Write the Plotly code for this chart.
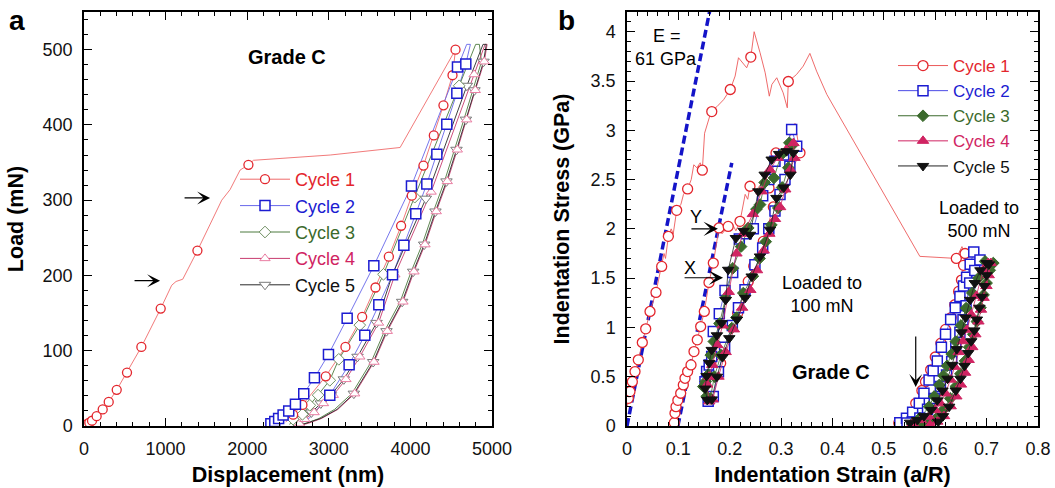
import plotly.graph_objects as go

FONT = "Liberation Sans, Arial, sans-serif"
W, H = 1055, 488
ML, MR, MT, MB = 0, 0, 12, 62

CYCLE_NAMES = ["Cycle 1", "Cycle 2", "Cycle 3", "Cycle 4", "Cycle 5"]
RED, BLUE, GREEN, PINK, BLACK = "#e3262d", "#1c1cd1", "#3b6a2c", "#d02462", "#111111"

# ================= Panel a : Load vs Displacement =================
a_x_ticks = [0, 1000, 2000, 3000, 4000, 5000]
a_y_ticks = [0, 100, 200, 300, 400, 500]

# Cycle 1 loading (line) and its markers
a_c1_load_x = [0, 16, 41, 65, 98, 155, 229, 303, 401, 527, 703, 940, 1075, 1128, 1210, 1390, 1688, 1790, 1913, 2015, 2077, 3017, 3874, 4553]
a_c1_load_y = [0, 1, 2.7, 4.4, 7, 13, 22, 32, 48, 71, 105, 156, 187, 192, 195, 233, 300, 314, 340, 347, 353, 360, 370, 500]
a_c1_load_mx = [0, 16, 41, 65, 98, 155, 229, 303, 401, 527, 703, 940, 1390, 2015]
a_c1_load_my = [0, 1, 2.7, 4.4, 7, 13, 22, 32, 48, 71, 105, 156, 233, 347]
# Cycle 1 unloading
a_c1_unl_x = [4553, 4516, 4405, 4287, 4160, 4017, 3886, 3736, 3572, 3409, 3204, 2963, 2677, 2563, 2470]
a_c1_unl_y = [500, 466, 426, 386, 346, 306, 266, 225, 184, 145, 105, 66, 28, 15, 5]
a_c1_unl_mx = [4553, 4516, 4405, 4287, 4160, 4017, 3886, 3736, 3572, 3409, 3204, 2963, 2677, 2563]
a_c1_unl_my = [500, 466, 426, 386, 346, 306, 266, 225, 184, 145, 105, 66, 28, 15]

# Cycle 2
a_c2_x = [2290, 2338, 2385, 2440, 2509, 2591, 2693, 2824, 2996, 3225, 3552, 4013, 4577, 4690, 4735, 4679, 4569, 4446, 4324, 4201, 4066, 3920, 3781, 3613, 3441, 3249, 3012, 2767, 2600]
a_c2_y = [3, 6, 10, 14.6, 20, 29, 43, 64, 95, 143, 213, 319, 477, 507, 507, 481, 442, 401, 361, 321.5, 282, 240, 201, 161, 120.5, 81.5, 41, 11, 2]
a_c2_mx = [2290, 2338, 2385, 2440, 2509, 2591, 2693, 2824, 2996, 3225, 3552, 4013, 4577, 4679, 4569, 4446, 4324, 4201, 4066, 3920, 3781, 3613, 3441, 3249, 3012]
a_c2_my = [3, 6, 10, 14.6, 20, 29, 43, 64, 95, 143, 213, 319, 477, 481, 442, 401, 361, 321.5, 282, 240, 201, 161, 120.5, 81.5, 41]

# Cycle 3
a_c3_x = [2520, 2563, 2677, 2767, 2869, 3012, 3122, 3380, 3670, 4053, 4598, 4800, 4845, 4871, 4760, 4655, 4540, 4417, 4282, 4144, 4009, 3874, 3682, 3519, 3282, 3070, 2880, 2730, 2620]
a_c3_y = [2, 9, 15.5, 27.5, 41, 60.7, 88.6, 134, 201.5, 304, 452, 507, 507, 484, 446, 407, 367, 325, 285, 241, 205, 165, 126, 85, 43, 22, 10, 4, 1]
a_c3_mx = [2563, 2677, 2767, 2869, 3012, 3122, 3380, 3670, 4053, 4598]
a_c3_my = [9, 15.5, 27.5, 41, 60.7, 88.6, 134, 201.5, 304, 452]

# Cycle 4
a_c4_x = [2600, 2640, 2705, 2820, 2935, 3055, 3210, 3380, 3610, 3810, 4254, 4781, 4915, 4940, 4905, 4795, 4690, 4575, 4452, 4317, 4179, 4044, 3909, 3717, 3554, 3317, 3110, 2910, 2760, 2660]
a_c4_y = [0, 3, 9, 18, 30, 41, 62, 92, 137, 201, 311, 467, 507, 507, 484, 446, 407, 367, 325, 285, 241, 205, 165, 126, 85, 43, 22, 10, 4, 1]
a_c4_mx = [2640, 2705, 2820, 2935, 3055, 3210, 3380, 3610, 3810, 4254, 4781, 4905, 4795, 4690, 4575, 4452, 4317, 4179, 4044, 3909, 3717, 3554, 3317]
a_c4_my = [3, 9, 18, 30, 41, 62, 92, 137, 201, 311, 467, 484, 446, 407, 367, 325, 285, 241, 205, 165, 126, 85, 43]

# Cycle 5
a_c5_x = [2560, 2600, 2665, 2787, 2902, 3025, 3184, 3352, 3585, 3781, 4189, 4692, 4890, 4930, 4896, 4785, 4680, 4565, 4442, 4307, 4169, 4034, 3899, 3707, 3544, 3307, 3100, 2900, 2750, 2650]
a_c5_y = [0, 3, 9, 18, 30, 41, 62, 92, 137, 201.5, 302, 452, 507, 507, 484, 446, 407, 367, 325, 285, 241, 205, 165, 126, 85, 43, 22, 10, 4, 1]
a_c5_mx = [2600, 2665, 2787, 2902, 3025, 3184, 3352, 3585, 3781, 4189, 4692, 4896, 4785, 4680, 4565, 4442, 4307, 4169, 4034, 3899, 3707, 3544, 3307]
a_c5_my = [3, 9, 18, 30, 41, 62, 92, 137, 201.5, 302, 452, 484, 446, 407, 367, 325, 285, 241, 205, 165, 126, 85, 43]

# ================= Panel b : Indentation stress-strain =================
b_x_ticks = [0, 0.1, 0.2, 0.3, 0.4, 0.5, 0.6, 0.7, 0.8]
b_y_ticks = [0, 0.5, 1, 1.5, 2, 2.5, 3, 3.5, 4]

# Cycle 1, 500 mN test (line)
b_c1a_x = [0.001, 0.0026, 0.0058, 0.0104, 0.0156, 0.022, 0.0298, 0.0364, 0.0448, 0.0564, 0.0675, 0.072, 0.075, 0.0805, 0.086, 0.09, 0.0967, 0.105, 0.11, 0.118, 0.125, 0.13, 0.136, 0.1425, 0.1466, 0.150, 0.151, 0.162, 0.165, 0.175, 0.188, 0.201, 0.2105, 0.217, 0.2267, 0.233, 0.241, 0.2475, 0.259, 0.269, 0.277, 0.282, 0.2915, 0.304, 0.312, 0.314, 0.330, 0.343, 0.356, 0.369, 0.389, 0.570, 0.641, 0.652, 0.658, 0.655, 0.651, 0.6455, 0.638, 0.631, 0.620, 0.611, 0.600, 0.591, 0.581, 0.574, 0.562, 0.545, 0.529]
b_c1a_y = [0.20, 0.281, 0.349, 0.45, 0.552, 0.671, 0.847, 0.986, 1.162, 1.355, 1.619, 1.75, 1.70, 1.924, 2.0, 1.95, 2.188, 2.25, 2.35, 2.405, 2.5, 2.65, 2.62, 2.67, 2.595, 2.84, 2.97, 3.16, 3.19, 3.24, 3.31, 3.414, 3.55, 3.736, 3.668, 3.634, 3.743, 4.0, 3.787, 3.583, 3.346, 3.465, 3.533, 3.38, 3.228, 3.495, 3.566, 3.651, 3.78, 3.60, 3.363, 1.721, 1.70, 1.82, 1.75, 1.63, 1.48, 1.365, 1.23, 1.10, 0.98, 0.84, 0.70, 0.57, 0.45, 0.36, 0.23, 0.12, 0.03]
b_c1a_mx = [0.0026, 0.0058, 0.0104, 0.0156, 0.022, 0.0298, 0.0364, 0.0448, 0.0564, 0.0675, 0.0805, 0.0967, 0.118, 0.1466, 0.165, 0.201, 0.241, 0.314, 0.641, 0.658, 0.655, 0.651, 0.6455, 0.638, 0.631, 0.620, 0.611, 0.600, 0.591, 0.581, 0.574, 0.562, 0.529]
b_c1a_my = [0.281, 0.349, 0.45, 0.552, 0.671, 0.847, 0.986, 1.162, 1.355, 1.619, 1.924, 2.188, 2.405, 2.595, 3.19, 3.414, 3.743, 3.495, 1.70, 1.75, 1.63, 1.48, 1.365, 1.23, 1.10, 0.98, 0.84, 0.70, 0.57, 0.45, 0.36, 0.23, 0.03]
# Cycle 1, 100 mN test
b_c1b_x = [0.0915, 0.092, 0.0934, 0.0954, 0.099, 0.1045, 0.1096, 0.1129, 0.118, 0.1246, 0.1304, 0.1368, 0.1434, 0.1505, 0.1596, 0.168, 0.172, 0.179, 0.185, 0.197, 0.205, 0.212, 0.22, 0.225, 0.23, 0.235, 0.2394, 0.25, 0.26, 0.2764, 0.283, 0.29, 0.301, 0.31, 0.318, 0.327, 0.3367, 0.3043, 0.2848, 0.2653, 0.2467, 0.236, 0.2154, 0.1823, 0.176]
b_c1b_y = [0.0, 0.034, 0.129, 0.196, 0.26, 0.332, 0.417, 0.484, 0.552, 0.62, 0.755, 0.874, 1.009, 1.162, 1.456, 1.653, 1.8, 2.009, 1.95, 2.025, 2.05, 1.98, 2.076, 2.2, 2.35, 2.3, 2.432, 2.38, 2.45, 2.415, 2.6, 2.77, 2.754, 2.85, 2.95, 3.07, 2.771, 2.405, 2.222, 1.873, 1.62, 1.467, 1.145, 0.637, 0.55]
b_c1b_mx = [0.092, 0.0934, 0.0954, 0.099, 0.1045, 0.1096, 0.1129, 0.118, 0.1246, 0.1304, 0.1368, 0.1434, 0.1505, 0.1596, 0.168, 0.179, 0.197, 0.22, 0.2394, 0.2764, 0.29, 0.3367, 0.3043, 0.2848, 0.2653, 0.2467, 0.236, 0.2154, 0.1823]
b_c1b_my = [0.034, 0.129, 0.196, 0.26, 0.332, 0.417, 0.484, 0.552, 0.62, 0.755, 0.874, 1.009, 1.162, 1.456, 1.653, 2.009, 2.025, 2.076, 2.432, 2.415, 2.77, 2.771, 2.405, 2.222, 1.873, 1.62, 1.467, 1.145, 0.637]

# E = 61 GPa elastic fits
b_fit1_x = [0.0, 0.1625]
b_fit1_y = [0.0, 4.25]
b_fit2_x = [0.099, 0.204]
b_fit2_y = [0.0, 2.67]

# Cycles 2-5: 100 mN loop (mid) and 500 mN loop (right)
b_c2_mid_x = [0.158, 0.1518, 0.155, 0.160, 0.1649, 0.168, 0.1797, 0.1908, 0.2057, 0.2186, 0.232, 0.2459, 0.2641, 0.276, 0.288, 0.305, 0.3205, 0.3303, 0.317, 0.3075, 0.2978, 0.288, 0.276, 0.2641, 0.249, 0.2297, 0.217, 0.205, 0.19, 0.178, 0.168]
b_c2_mid_y = [0.25, 0.45, 0.552, 0.62, 0.704, 0.958, 1.138, 1.375, 1.558, 1.897, 1.95, 2.0, 2.337, 2.5, 2.686, 2.75, 3.008, 2.838, 2.635, 2.5, 2.348, 2.18, 2.0, 1.806, 1.636, 1.382, 1.2, 1.019, 0.8, 0.55, 0.3]
b_c2_rt_x = [0.531, 0.544, 0.556, 0.569, 0.578, 0.588, 0.596, 0.604, 0.612, 0.62, 0.63, 0.639, 0.648, 0.655, 0.661, 0.668, 0.675, 0.687, 0.677, 0.667, 0.660, 0.654, 0.648, 0.640, 0.632, 0.622, 0.610, 0.598, 0.585, 0.570, 0.555, 0.545]
b_c2_rt_y = [0.034, 0.078, 0.14, 0.23, 0.332, 0.467, 0.56, 0.66, 0.8, 0.931, 1.08, 1.2, 1.314, 1.42, 1.51, 1.64, 1.765, 1.683, 1.578, 1.45, 1.22, 1.077, 0.95, 0.8, 0.654, 0.518, 0.4, 0.28, 0.17, 0.08, 0.04, 0.03]

b_c3_mid_x = [0.155, 0.1486, 0.153, 0.158, 0.163, 0.169, 0.180, 0.192, 0.206, 0.222, 0.236, 0.252, 0.259, 0.268, 0.286, 0.300, 0.316, 0.322, 0.314, 0.302, 0.2945, 0.281, 0.270, 0.258, 0.245, 0.2264, 0.213, 0.2038, 0.183, 0.170, 0.162]
b_c3_mid_y = [0.3, 0.4, 0.45, 0.52, 0.72, 0.857, 1.04, 1.3, 1.6, 1.82, 2.009, 2.2, 2.246, 2.47, 2.517, 2.75, 2.873, 2.85, 2.62, 2.42, 2.212, 2.04, 1.87, 1.7, 1.52, 1.349, 1.1, 0.993, 0.72, 0.5, 0.28]
b_c3_rt_x = [0.555, 0.57, 0.588, 0.598, 0.608, 0.616, 0.623, 0.632, 0.64, 0.65, 0.66, 0.672, 0.684, 0.697, 0.713, 0.706, 0.70, 0.694, 0.688, 0.681, 0.674, 0.666, 0.658, 0.649, 0.640, 0.629, 0.617, 0.603, 0.588, 0.575]
b_c3_rt_y = [0.02, 0.08, 0.196, 0.3, 0.417, 0.51, 0.61, 0.73, 0.857, 1.02, 1.196, 1.35, 1.5, 1.67, 1.653, 1.58, 1.45, 1.33, 1.2, 1.06, 0.93, 0.8, 0.66, 0.53, 0.4, 0.28, 0.17, 0.08, 0.03, 0.01]

b_c4_mid_x = [0.160, 0.156, 0.160, 0.166, 0.176, 0.186, 0.198, 0.213, 0.226, 0.245, 0.262, 0.278, 0.293, 0.310, 0.324, 0.326, 0.318, 0.308, 0.298, 0.288, 0.277, 0.266, 0.253, 0.240, 0.224, 0.208, 0.192, 0.178, 0.167]
b_c4_mid_y = [0.25, 0.42, 0.5, 0.62, 0.82, 1.02, 1.36, 1.75, 1.95, 2.15, 2.38, 2.6, 2.72, 2.8, 2.87, 2.72, 2.6, 2.4, 2.22, 2.1, 1.95, 1.78, 1.58, 1.38, 1.2, 0.98, 0.75, 0.5, 0.27]
b_c4_rt_x = [0.556, 0.572, 0.588, 0.600, 0.610, 0.620, 0.630, 0.638, 0.6455, 0.654, 0.6615, 0.670, 0.680, 0.6936, 0.703, 0.708, 0.704, 0.6996, 0.694, 0.689, 0.684, 0.678, 0.672, 0.665, 0.658, 0.650, 0.641, 0.630, 0.617, 0.604, 0.59]
b_c4_rt_y = [0.03, 0.06, 0.095, 0.16, 0.23, 0.33, 0.47, 0.6, 0.75, 0.86, 0.976, 1.13, 1.32, 1.585, 1.653, 1.653, 1.53, 1.42, 1.3, 1.18, 1.06, 0.93, 0.8, 0.67, 0.54, 0.42, 0.3, 0.2, 0.1, 0.044, 0.01]

b_c5_mid_x = [0.1563, 0.152, 0.155, 0.160, 0.165, 0.175, 0.184, 0.192, 0.197, 0.212, 0.227, 0.2394, 0.2556, 0.268, 0.2816, 0.296, 0.3108, 0.3237, 0.318, 0.305, 0.291, 0.2783, 0.2589, 0.2427, 0.230, 0.214, 0.199, 0.186, 0.175, 0.165]
b_c5_mid_y = [0.264, 0.38, 0.508, 0.64, 0.772, 0.92, 1.044, 1.28, 1.585, 1.907, 1.98, 1.94, 2.381, 2.55, 2.703, 2.76, 2.788, 2.771, 2.55, 2.42, 2.314, 1.992, 1.72, 1.517, 1.3, 1.08, 0.891, 0.7, 0.5, 0.27]
b_c5_rt_x = [0.551, 0.565, 0.578, 0.592, 0.604, 0.614, 0.624, 0.633, 0.642, 0.651, 0.659, 0.668, 0.677, 0.688, 0.700, 0.7045, 0.700, 0.6955, 0.691, 0.686, 0.681, 0.676, 0.670, 0.664, 0.657, 0.649, 0.640, 0.627, 0.615, 0.6057]
b_c5_rt_y = [0.034, 0.06, 0.1, 0.163, 0.26, 0.36, 0.48, 0.62, 0.78, 0.95, 1.1, 1.28, 1.45, 1.58, 1.653, 1.64, 1.53, 1.42, 1.31, 1.2, 1.08, 0.97, 0.86, 0.74, 0.61, 0.48, 0.36, 0.196, 0.1, 0.044]

fig = go.Figure()


def line(x, y, color, width, xa, ya, dash=None):
    fig.add_trace(go.Scatter(x=x, y=y, mode="lines", xaxis=xa, yaxis=ya,
                             line=dict(color=color, width=width, dash=dash),
                             showlegend=False, hoverinfo="skip"))


def marks(x, y, symbol, size, fill, outline, lw, xa, ya):
    fig.add_trace(go.Scatter(x=x, y=y, mode="markers", xaxis=xa, yaxis=ya,
                             marker=dict(symbol=symbol, size=size, color=fill,
                                         line=dict(color=outline, width=lw)),
                             showlegend=False, hoverinfo="skip"))


def legend_item(name, color, lcolor, symbol, size, fill, outline, lw, leg):
    fig.add_trace(go.Scatter(x=[None], y=[None], mode="lines+markers",
                             name="<span style='color:%s'>%s</span>" % (color, name),
                             line=dict(color=lcolor, width=1),
                             marker=dict(symbol=symbol, size=size, color=fill,
                                         line=dict(color=outline, width=lw)),
                             legend=leg, showlegend=True))


# ---- panel a traces
A_STYLE = [
    ("circle", 9, "white", RED, 1.3, "#ef6b6b"),
    ("square", 10, "white", BLUE, 1.5, "#6767ea"),
    ("diamond", 9, "white", "#6f8f62", 1.0, "#4d7a3e"),
    ("triangle-up", 9, "white", "#e97da2", 1.0, "#c83b6e"),
    ("triangle-down", 10, "white", "#7a7a7a", 1.0, "#2a2a2a"),
]
line(a_c1_load_x, a_c1_load_y, A_STYLE[0][5], 0.9, "x", "y")
line(a_c1_unl_x, a_c1_unl_y, A_STYLE[0][5], 0.9, "x", "y")
line(a_c2_x, a_c2_y, A_STYLE[1][5], 0.9, "x", "y")
line(a_c3_x, a_c3_y, A_STYLE[2][5], 0.9, "x", "y")
line(a_c4_x, a_c4_y, A_STYLE[3][5], 0.9, "x", "y")
line(a_c5_x, a_c5_y, A_STYLE[4][5], 0.9, "x", "y")
for (mx, my), st in zip([(a_c5_mx, a_c5_my), (a_c4_mx, a_c4_my), (a_c3_mx, a_c3_my)],
                        [A_STYLE[4], A_STYLE[3], A_STYLE[2]]):
    marks(mx, my, st[0], st[1], st[2], st[3], st[4], "x", "y")
marks(a_c1_load_mx, a_c1_load_my, *A_STYLE[0][:5], "x", "y")
marks(a_c1_unl_mx, a_c1_unl_my, *A_STYLE[0][:5], "x", "y")
marks(a_c2_mx, a_c2_my, *A_STYLE[1][:5], "x", "y")

TEXT_COLORS = [RED, BLUE, GREEN, PINK, BLACK]
for name, tc, st in zip(CYCLE_NAMES, TEXT_COLORS, A_STYLE):
    legend_item(name, tc, st[5], st[0], st[1], st[2], st[3], st[4], "legend")

# ---- panel b traces
line(b_fit1_x, b_fit1_y, "#1414c8", 3.5, "x2", "y2", dash="8px,4px")
line(b_fit2_x, b_fit2_y, "#1414c8", 3.5, "x2", "y2", dash="8px,4px")

B_STYLE = [
    ("circle", 10, "white", RED, 1.3, "#ec5a5a"),
    ("square", 10, "white", BLUE, 1.5, "#4b4be6"),
    ("diamond", 9, GREEN, GREEN, 1.0, GREEN),
    ("triangle-up", 10, PINK, PINK, 1.0, PINK),
    ("triangle-down", 10, BLACK, BLACK, 1.0, "#222222"),
]
line(b_c1a_x, b_c1a_y, B_STYLE[0][5], 0.9, "x2", "y2")
line(b_c1b_x, b_c1b_y, B_STYLE[0][5], 0.9, "x2", "y2")
marks(b_c1a_mx, b_c1a_my, *B_STYLE[0][:5], "x2", "y2")
marks(b_c1b_mx, b_c1b_my, *B_STYLE[0][:5], "x2", "y2")

b_series = [
    (b_c2_mid_x, b_c2_mid_y, b_c2_rt_x, b_c2_rt_y, B_STYLE[1]),
    (b_c3_mid_x, b_c3_mid_y, b_c3_rt_x, b_c3_rt_y, B_STYLE[2]),
    (b_c4_mid_x, b_c4_mid_y, b_c4_rt_x, b_c4_rt_y, B_STYLE[3]),
    (b_c5_mid_x, b_c5_mid_y, b_c5_rt_x, b_c5_rt_y, B_STYLE[4]),
]
for mx, my, rx, ry, st in b_series:
    fig.add_trace(go.Scatter(x=mx + [None] + rx, y=my + [None] + ry, mode="lines+markers",
                             xaxis="x2", yaxis="y2", showlegend=False, hoverinfo="skip",
                             line=dict(color=st[5], width=0.8),
                             marker=dict(symbol=st[0], size=st[1], color=st[2],
                                         line=dict(color=st[3], width=st[4]))))

for name, tc, st in zip(CYCLE_NAMES, TEXT_COLORS, B_STYLE):
    legend_item(name, tc, st[5], st[0], st[1], st[2], st[3], st[4], "legend2")


def axis(domain, rng, tickvals, minor_dtick, title, anchor):
    return dict(domain=domain, range=rng, tickvals=tickvals, anchor=anchor,
                ticks="inside", ticklen=8, tickwidth=1.3, tickcolor="black",
                minor=dict(dtick=minor_dtick, ticks="inside", ticklen=4, tickwidth=1.1,
                           tickcolor="black", showgrid=False),
                showline=True, linewidth=1.5, linecolor="black", mirror="allticks",
                showgrid=False, zeroline=False, automargin=False,
                tickfont=dict(family=FONT, size=18, color="#111"),
                ticklabelstandoff=6,
                title=dict(text=title, font=dict(family=FONT, size=21.5, color="black", weight="bold"),
                           standoff=9))


def px_x(px):
    return px / W


def px_y(py):
    return (H - MB - py) / (H - MT - MB)


fig.update_layout(
    width=W, height=H, margin=dict(l=ML, r=MR, t=MT, b=MB),
    paper_bgcolor="white", plot_bgcolor="white",
    font=dict(family=FONT, color="black"),
    xaxis=axis([px_x(84), px_x(492)], [0, 5000], a_x_ticks, 200, "Displacement (nm)", "y"),
    yaxis=axis([0, 1], [0, 550], a_y_ticks, 20, "Load (mN)", "x"),
    xaxis2=axis([px_x(627), px_x(1038)], [0, 0.8], b_x_ticks, 0.02, "Indentation Strain (a/R)", "y2"),
    yaxis2=axis([0, 1], [0, 4.2], b_y_ticks, 0.1, "Indentation Stress (GPa)", "x2"),
    legend=dict(x=px_x(235), y=px_y(161), xanchor="left", yanchor="top",
                font=dict(family=FONT, size=18), bgcolor="rgba(0,0,0,0)",
                itemwidth=50, tracegroupgap=0),
    legend2=dict(x=px_x(893), y=px_y(48), xanchor="left", yanchor="top",
                 font=dict(family=FONT, size=17), bgcolor="rgba(0,0,0,0)",
                 itemwidth=50, tracegroupgap=0),
    showlegend=True,
)
fig.layout.yaxis.title.standoff = 13
fig.layout.yaxis2.title.standoff = 15

ann = []
# panel letters
ann.append(dict(text="a", x=px_x(17), y=px_y(21), xref="paper", yref="paper", showarrow=False,
                xanchor="center", yanchor="middle",
                font=dict(family=FONT, size=28, weight="bold")))
ann.append(dict(text="b", x=px_x(566), y=px_y(21), xref="paper", yref="paper", showarrow=False,
                xanchor="center", yanchor="middle",
                font=dict(family=FONT, size=28, weight="bold")))
# panel a text
ann.append(dict(text="Grade C", x=2490, y=490, xref="x", yref="y", showarrow=False,
                font=dict(family=FONT, size=20, weight="bold")))
for tx, ty in [(1545, 303), (932, 193)]:
    ann.append(dict(text="", x=tx, y=ty, xref="x", yref="y", ax=-27, ay=0,
                    showarrow=True, arrowhead=3, arrowsize=1.8, arrowwidth=1.2, arrowcolor="black"))
# panel b text
ann.append(dict(text="E =", x=0.0779, y=3.96, xref="x2", yref="y2", showarrow=False,
                font=dict(family=FONT, size=18)))
ann.append(dict(text="61 GPa", x=0.076, y=3.72, xref="x2", yref="y2", showarrow=False,
                font=dict(family=FONT, size=18)))
ann.append(dict(text="Y", x=0.134, y=2.12, xref="x2", yref="y2", showarrow=False,
                font=dict(family=FONT, size=18)))
ann.append(dict(text="X", x=0.1226, y=1.6, xref="x2", yref="y2", showarrow=False,
                font=dict(family=FONT, size=18)))
ann.append(dict(text="", x=0.177, y=2.0, xref="x2", yref="y2", ax=-28, ay=0,
                showarrow=True, arrowhead=3, arrowsize=2, arrowwidth=1.2, arrowcolor="black"))
ann.append(dict(text="", x=0.187, y=1.504, xref="x2", yref="y2", ax=-40, ay=0,
                showarrow=True, arrowhead=3, arrowsize=2, arrowwidth=1.2, arrowcolor="black"))
ann.append(dict(text="Loaded to<br>100 mN", x=0.3796, y=1.33, xref="x2", yref="y2", showarrow=False,
                font=dict(family=FONT, size=18)))
ann.append(dict(text="Loaded to<br>500 mN", x=0.685, y=2.10, xref="x2", yref="y2", showarrow=False,
                font=dict(family=FONT, size=18)))
ann.append(dict(text="Grade C", x=0.397, y=0.549, xref="x2", yref="y2", showarrow=False,
                font=dict(family=FONT, size=20, weight="bold")))
ann.append(dict(text="", x=0.562, y=0.396, xref="x2", yref="y2", ax=0, ay=-52,
                showarrow=True, arrowhead=3, arrowsize=1.8, arrowwidth=1.2, arrowcolor="black"))
fig.update_layout(annotations=ann)

fig.write_html("out.html", config={"displayModeBar": False},
               post_script="document.body.style.margin='0px';document.body.style.overflow='hidden';")
